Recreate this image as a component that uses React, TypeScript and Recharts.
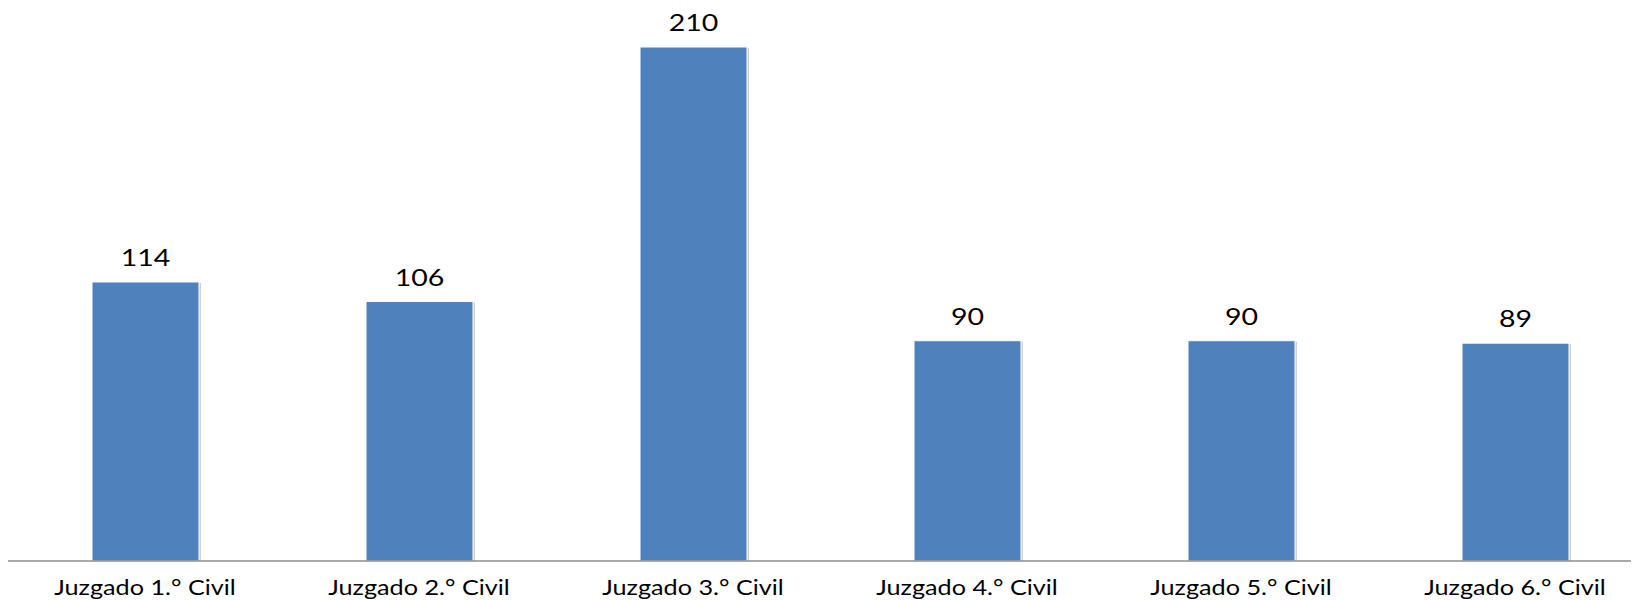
import React from 'react';
import { BarChart, Bar, XAxis, YAxis, LabelList } from 'recharts';

const juzgados = [
  'Juzgado 1.° Civil',
  'Juzgado 2.° Civil',
  'Juzgado 3.° Civil',
  'Juzgado 4.° Civil',
  'Juzgado 5.° Civil',
  'Juzgado 6.° Civil',
];
const casos = [114, 106, 210, 90, 90, 89];

const data = juzgados.map((name, i) => ({ name, value: casos[i] }));

const FONT = 'Lato, "Open Sans", sans-serif';

// bar with the soft grey drop shadow of the original
const ShadowBar = (props: any) => {
  const { x, y, width, height } = props;
  if (!height || height <= 0) return null;
  return (
    <g>
      <rect x={x + 2} y={y + 1} width={width} height={height - 1} fill="#b0b0b0" opacity={0.6} />
      <rect x={x} y={y} width={width} height={height} fill="#4F81BD" stroke="#ffffff" strokeWidth={1} />
    </g>
  );
};

const ValueLabel = (props: any) => {
  const { x, y, width, value } = props;
  const cx = x + width / 2;
  return (
    <g transform={`translate(${cx},${y - 16})`}>
      <text transform="scale(1.24,1)" textAnchor="middle" fontFamily={FONT} fontSize={23} fill="#000">
        {value}
      </text>
    </g>
  );
};

const CategoryTick = (props: any) => {
  const { x, y, payload } = props;
  return (
    <g transform={`translate(${x},${y + 26})`}>
      <text transform="scale(1.2,1)" textAnchor="middle" fontFamily={FONT} fontSize={21} fill="#000">
        {payload.value}
      </text>
    </g>
  );
};

export default function App() {
  return (
    <div style={{ width: 1631, height: 592, overflow: 'hidden', background: '#fff' }}>
      <BarChart
        width={1644}
        height={592}
        data={data}
        margin={{ top: 39, right: 0, left: 0, bottom: 4 }}
      >
        <XAxis
          dataKey="name"
          height={35}
          tickLine={false}
          axisLine={{ stroke: '#8c8c8c', strokeWidth: 1.5 }}
          tick={<CategoryTick />}
          interval={0}
        />
        <YAxis hide domain={[0, 210]} />
        <Bar dataKey="value" barSize={107} shape={<ShadowBar />} isAnimationActive={false}>
          <LabelList dataKey="value" content={<ValueLabel />} />
        </Bar>
      </BarChart>
    </div>
  );
}
